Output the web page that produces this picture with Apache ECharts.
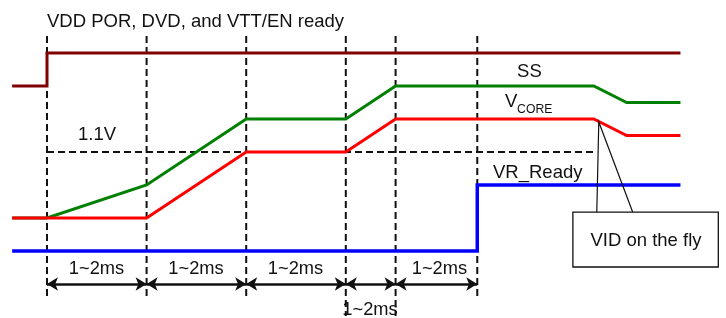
<!DOCTYPE html>
<html><head><meta charset="utf-8">
<script src="https://cdn.jsdelivr.net/npm/echarts@6/dist/echarts.min.js"></script>
<style>html,body{margin:0;padding:0;background:#fff}#c{width:726px;height:318px}</style>
</head><body><div id="c"></div><script>
// ---- data (time in ms-like steps, level in arbitrary signal units) ----
const guideTimes = [0, 1, 2, 3, 3.5, 4.32];
const vddPor  = [[-0.35,10],[0,10],[0,12],[6.36,12]];
const ssRamp  = [[-0.35,2],[0,2],[1,4],[2,8],[3,8],[3.5,10],[5.49,10],[5.82,9],[6.36,9]];
const vCore   = [[-0.35,2],[1,2],[2,6],[3,6],[3.5,8],[5.49,8],[5.82,7],[6.36,7]];
const vrReady = [[-0.35,0],[4.32,0],[4.32,4],[6.36,4]];
const refLevel = 6;            // 1.1V threshold
const refEnd = 5.5;
const intervals = [[0,1],[1,2],[2,3],[3,3.5],[3.5,4.32]];
const intervalLabels = ['1~2ms','1~2ms','1~2ms','1~2ms','1~2ms'];
const vidPoint = [5.54, 7.82];
const vidLegs = [[5.52, 2.36],[5.88, 2.36]];
const vidBox = [5.28, 2.36, 6.74, -0.97];

// ---- layout (not data) ----
const FONT = '"Liberation Sans", Arial, sans-serif';
const guideTop = 13.03, guideBottom = -2.97, guideBottomLong = -3.94;
const arrowLevel = -2;
const labelAnchors = [[0.497,-1.09],[1.496,-1.09],[2.495,-1.09],[3.243,-3.58],[3.94,-1.09]];

const texts = [
  {t:0, l:13.9, text:'VDD POR, DVD, and VTT/EN ready', align:'left', size:18.5},
  {t:0.311, l:7.03, text:'1.1V', align:'left', size:18.5},
  {t:4.72, l:10.85, text:'SS', align:'left', size:18.5},
  {t:4.598, l:9.03, text:'V', align:'left', size:18.5},
  {t:4.72, l:8.58, text:'CORE', align:'left', size:12.2},
  {t:4.478, l:4.73, text:'VR_Ready', align:'left', size:18.5},
  {t:6.014, l:0.64, text:'VID on the fly', align:'center', size:18.5}
];
intervalLabels.forEach((s,i)=>texts.push({t:labelAnchors[i][0], l:labelAnchors[i][1], text:s, align:'center', size:18.3}));

const chart = echarts.init(document.getElementById('c'), null, {renderer:'canvas'});
const series = [];

function lineSeries(data, color, width, z, dash){
  return {type:'line', data, symbol:'none', showSymbol:false, silent:true, animation:false, z,
    lineStyle:{color, width, type: dash || 'solid', cap:'butt', join:'miter'}};
}

guideTimes.forEach((t,i)=>{
  const bottom = (i===3||i===4) ? guideBottomLong : guideBottom;
  series.push(lineSeries([[t,guideTop],[t,bottom]], '#111', 2, 1, [7,4]));
});
series.push(lineSeries([[0,refLevel],[refEnd,refLevel]], '#111', 2, 1, [7,4]));

series.push(lineSeries(vddPor, '#800000', 3, 3));
series.push(lineSeries(ssRamp, '#008000', 3, 3));
series.push(lineSeries(vCore, '#ff0000', 3, 4));
series.push(lineSeries(vrReady, '#0000ff', 3.5, 3));

// callout legs
series.push(lineSeries([vidLegs[0], vidPoint, vidLegs[1]], '#111', 1.2, 6));

// arrows
series.push({type:'line', data:[], silent:true, animation:false, z:5,
  markLine:{silent:true, animation:false, symbol:['arrow','arrow'], symbolSize:[10,11],
    label:{show:false}, emphasis:{disabled:true},
    lineStyle:{color:'#111', width:2.5, type:'solid'},
    data: intervals.map(p=>[{coord:[p[0],arrowLevel]},{coord:[p[1],arrowLevel]}])}
});

// callout box
series.push({type:'custom', silent:true, animation:false, z:7, data:[vidBox],
  renderItem:(params, api)=>{
    const p1 = api.coord([vidBox[0], vidBox[1]]);
    const p2 = api.coord([vidBox[2], vidBox[3]]);
    return {type:'rect', shape:{x:p1[0], y:p1[1], width:p2[0]-p1[0], height:p2[1]-p1[1]},
      style:{fill:'#fff', stroke:'#111', lineWidth:1.3}};
  }});

// texts
series.push({type:'custom', silent:true, animation:false, z:8, data:texts.map(d=>[d.t,d.l]),
  renderItem:(params, api)=>{
    const d = texts[params.dataIndex];
    const p = api.coord([d.t, d.l]);
    return {type:'text', x:p[0], y:p[1],
      style:{text:d.text, font:d.size+'px '+FONT, fill:'#111', align:d.align, verticalAlign:'middle'}};
  }});

chart.setOption({
  animation:false,
  grid:{left:0, right:0, top:0, bottom:0},
  xAxis:{type:'value', min:-47/99.6, max:679/99.6, show:false},
  yAxis:{type:'value', min:-67/16.5, max:251/16.5, show:false},
  series
});
</script></body></html>
